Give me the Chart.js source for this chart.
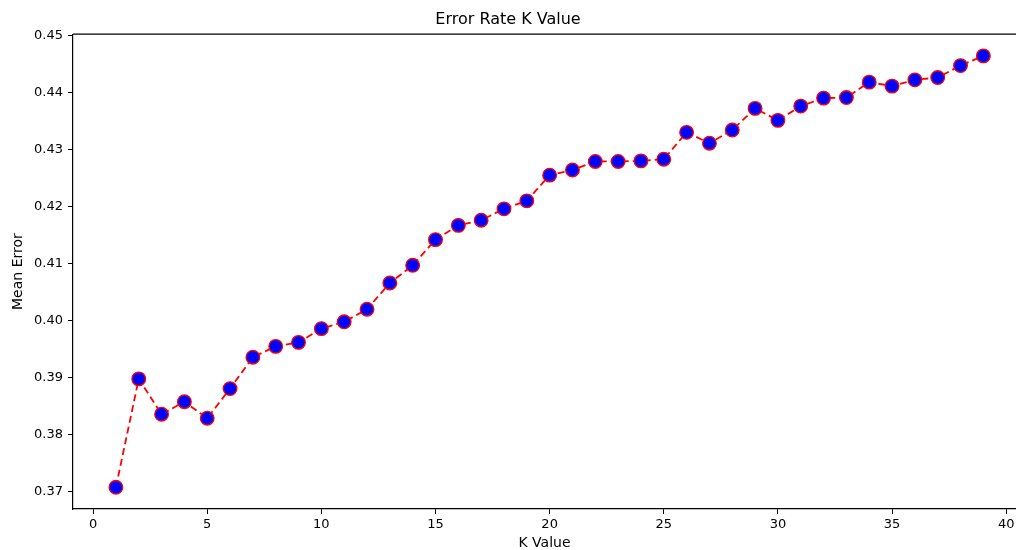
<!DOCTYPE html>
<html>
<head>
<meta charset="utf-8">
<script src="https://cdn.jsdelivr.net/npm/chart.js@4/dist/chart.umd.min.js"></script>
<style>
  html, body { margin: 0; padding: 0; background: #fff; }
  #wrap { width: 1016px; height: 550px; }
</style>
</head>
<body>
<div id="wrap"><canvas id="myChart" width="1016" height="550"></canvas></div>
<script>
// Data
const kValues = [1, 2, 3, 4, 5, 6, 7, 8, 9, 10, 11, 12, 13, 14, 15, 16, 17, 18, 19, 20,
  21, 22, 23, 24, 25, 26, 27, 28, 29, 30, 31, 32, 33, 34, 35, 36, 37, 38, 39];
const meanError = [0.3708, 0.3898, 0.3836, 0.3858, 0.3829, 0.3881, 0.3936, 0.3955, 0.3962, 0.3986,
  0.3998, 0.4020, 0.4066, 0.4097, 0.4142, 0.4167, 0.4176, 0.4196, 0.4210, 0.4255,
  0.4264, 0.4279, 0.4279, 0.4280, 0.4283, 0.4330, 0.4311, 0.4334, 0.4372, 0.4351,
  0.4376, 0.4390, 0.4391, 0.4418, 0.4411, 0.4422, 0.4426, 0.4447, 0.4464];
const xTicks = [0, 5, 10, 15, 20, 25, 30, 35, 40];
const yTicks = [0.37, 0.38, 0.39, 0.40, 0.41, 0.42, 0.43, 0.44, 0.45];

const points = kValues.map((k, i) => ({ x: k, y: meanError[i] }));

// top spine of the frame
const topSpine = {
  id: 'topSpine',
  afterDraw(chart) {
    const { ctx, chartArea } = chart;
    ctx.save();
    ctx.strokeStyle = '#000';
    ctx.lineWidth = 1.2;
    ctx.beginPath();
    ctx.moveTo(chartArea.left, chartArea.top);
    ctx.lineTo(chartArea.right, chartArea.top);
    ctx.stroke();
    ctx.restore();
  }
};

Chart.defaults.font.family = "'DejaVu Sans', sans-serif";
Chart.defaults.color = '#000';

const ctx = document.getElementById('myChart').getContext('2d');
const myChart = new Chart(ctx, {
  type: 'line',
  data: {
    datasets: [{
      data: points,
      borderColor: 'red',
      borderWidth: 1.8,
      borderDash: [7, 4],
      pointBackgroundColor: 'blue',
      pointBorderColor: 'red',
      pointBorderWidth: 1.3,
      pointRadius: 6.8,
      fill: false,
      tension: 0
    }]
  },
  options: {
    responsive: false,
    animation: false,
    layout: { autoPadding: false, padding: { left: 0, right: 0, top: 0, bottom: 0 } },
    plugins: {
      legend: { display: false },
      tooltip: { enabled: false },
      title: {
        display: true,
        text: 'Error Rate K Value',
        font: { size: 16, weight: 'normal', lineHeight: 1.2 },
        padding: { top: 10, bottom: 5 }
      }
    },
    scales: {
      x: {
        type: 'linear',
        min: -0.88,
        max: 40.43,
        afterFit: (scale) => { scale.height = 41; scale.paddingLeft = 0; scale.paddingRight = 0; },
        afterBuildTicks: (scale) => { scale.ticks = xTicks.map(v => ({ value: v })); },
        grid: { drawOnChartArea: false, tickLength: 5, color: '#000', tickWidth: 1 },
        border: { color: '#000', width: 1.2 },
        ticks: { font: { size: 13 }, padding: 3, maxRotation: 0 },
        title: { display: true, text: 'K Value', font: { size: 14, lineHeight: 1 }, padding: { top: 0, bottom: 0 } }
      },
      y: {
        type: 'linear',
        min: 0.367,
        max: 0.4502,
        afterFit: (scale) => { scale.width = 73; scale.paddingTop = 0; scale.paddingBottom = 0; },
        afterBuildTicks: (scale) => { scale.ticks = yTicks.map(v => ({ value: v })); },
        grid: { drawOnChartArea: false, tickLength: 5, color: '#000', tickWidth: 1 },
        border: { color: '#000', width: 1.2 },
        ticks: { font: { size: 13 }, padding: 5, callback: (v) => v.toFixed(2) },
        title: { display: true, text: 'Mean Error', font: { size: 14, lineHeight: 1.2 }, padding: { top: 10, bottom: 0 } }
      }
    }
  },
  plugins: [topSpine]
});
</script>
</body>
</html>
